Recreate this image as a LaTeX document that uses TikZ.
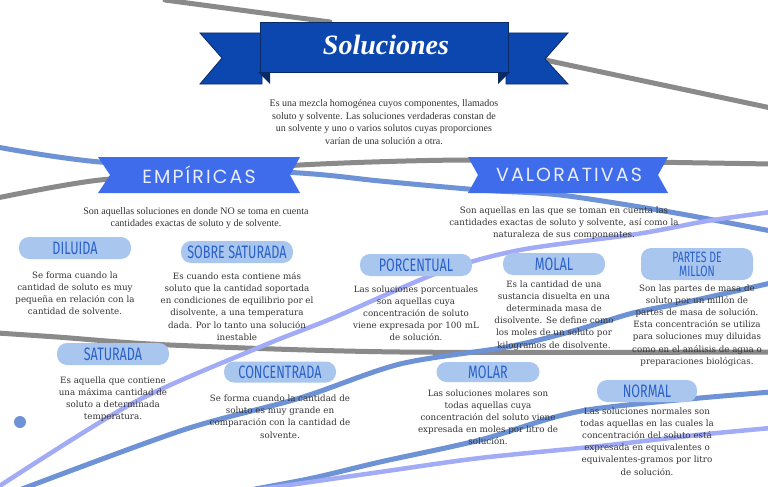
\documentclass[tikz,border=0pt]{standalone}
\usepackage{fontspec}
\setmainfont{Liberation Serif}
\newfontfamily\bodyfont{DejaVu Serif}
\newfontfamily\headfont[LetterSpace=11]{Poppins}
\newfontfamily\tagfont[FakeStretch=0.7]{Fira Sans}
\usetikzlibrary{positioning}

\definecolor{ribbonblue}{HTML}{0B47AE}
\definecolor{ribbonedge}{HTML}{0A2A66}
\definecolor{bannerblue}{HTML}{3F6CEB}
\definecolor{blobblue}{HTML}{A9C7EE}
\definecolor{tagblue}{HTML}{2A60C8}
\definecolor{textgray}{HTML}{333333}
\definecolor{linegray}{HTML}{8A8A8A}
\definecolor{lineblue}{HTML}{6D92D5}
\definecolor{lightblue}{HTML}{A2ABF6}

\begin{document}
\begin{tikzpicture}[
    x=1pt, y=-1pt,
    deco/.style={line width=5pt, line cap=round, line join=round},
    grayline/.style={deco, draw=linegray},
    blueline/.style={deco, draw=lineblue},
    lightline/.style={deco, draw=lightblue, line width=4.5pt},
    ribbon/.style={fill=ribbonblue, draw=ribbonedge, line width=0.8pt},
    ribbonfold/.style={fill=ribbonedge},
    banner/.style={fill=bannerblue},
    bannertext/.style={
        text=white!88!bannerblue,
        font=\headfont\fontsize{19}{19}\selectfont
    },
    titletext/.style={
        text=white,
        font=\rmfamily\bfseries\itshape\fontsize{28}{28}\selectfont
    },
    introtext/.style={
        align=center,
        text=textgray,
        inner sep=0pt,
        font=\rmfamily\fontsize{10}{12.6}\selectfont
    },
    blob/.style={
        fill=blobblue,
        rounded corners=10pt,
        minimum height=22pt,
        minimum width=112pt,
        inner sep=2pt,
        text=tagblue,
        font=\tagfont\fontsize{18}{18}\selectfont
    },
    infotext/.style={
        align=center,
        text=textgray,
        inner sep=0pt,
        font=\bodyfont\fontsize{8.7}{12.2}\selectfont
    }
]

\fill[white] (0,0) rectangle (768,487);
\useasboundingbox (0,0) rectangle (768,487);

% Background strokes
\draw[grayline] (165,0) -- (330,22);
\draw[grayline] (545,60) -- (771,108);
\draw[grayline] plot[smooth, tension=0.4] coordinates {(-3,198) (100,180) (300,165) (470,160) (771,164)};
\draw[blueline] plot[smooth] coordinates {(-3,147) (100,162) (300,173) (380,181) (480,190) (560,195) (670,212) (771,231)};
\draw[grayline] plot[smooth] coordinates {(-3,333) (57,337) (170,345) (400,352) (771,352)};
\draw[lightline] plot[smooth] coordinates {(-2,487) (133,403) (260,347) (333,318) (440,272) (520,250) (637,234) (707,221) (771,212)};
\draw[blueline] plot[smooth] coordinates {(22,489) (183,430) (300,398) (400,364) (507,347) (573,331) (633,313) (687,302) (771,283)};
\draw[blueline] plot[smooth] coordinates {(255,489) (313,478) (380,462) (480,440) (587,410) (771,392)};
\draw[lightline] plot[smooth] coordinates {(262,489) (380,472) (480,458) (600,446) (697,435) (771,428)};
\fill[lineblue] (20,422) circle (6pt);

% Title ribbon
\filldraw[ribbon] (200,33) -- (262,33) -- (262,84) -- (200,84) -- (222,58) -- cycle;
\filldraw[ribbon] (506,33) -- (568,33) -- (545,59) -- (568,84) -- (506,84) -- cycle;
\fill[ribbonfold] (258,72) -- (270,72) -- (270,84) -- cycle;
\fill[ribbonfold] (510,72) -- (498,72) -- (498,84) -- cycle;
\filldraw[ribbon] (260,22) rectangle (508,72);
\node[titletext] (title) at (386,45) {Soluciones};

\node[introtext] (intro) at (384,122) {Es una mezcla homogénea cuyos componentes, llamados\\
soluto y solvente. Las soluciones verdaderas constan de\\
un solvente y uno o varios solutos cuyas proporciones\\
varían de una solución a otra.};

% Banners
\fill[banner] (98,157) -- (300,157) -- (290,175) -- (300,193) -- (98,193) -- (110,175) -- cycle;
\node[bannertext] (empiricas) at (199,175) {EMPÍRICAS};

\fill[banner] (468,157) -- (668,157) -- (658,175) -- (668,193) -- (468,193) -- (478,175) -- cycle;
\node[bannertext] (valorativas) at (569,175) {VALORATIVAS};

\node[introtext] (empdesc) at (196,218) {Son aquellas soluciones en donde NO se toma en cuenta\\
cantidades exactas de soluto y de solvente.};

\node[infotext] (valdesc) at (564,223) {Son aquellas en las que se toman en cuenta las\\
cantidades exactas de soluto y solvente, así como la\\
naturaleza de sus componentes.};

% Empiricas
\node[blob] (diluida) at (75,248) {DILUIDA};
\node[blob] (sobresat) at (237,252) {SOBRE SATURADA};
\node[blob] (saturada) at (113,354) {SATURADA};
\node[blob, minimum height=21pt] (concentrada) at (280,372) {CONCENTRADA};

\node[infotext, below=12pt of diluida] (diluidatxt) {Se forma cuando la\\
cantidad de soluto es muy\\
pequeña en relación con la\\
cantidad de solvente.};

\node[infotext, below=9pt of sobresat] (sobresattxt) {Es cuando esta contiene más\\
soluto que la cantidad soportada\\
en condiciones de equilibrio por el\\
disolvente, a una temperatura\\
dada. Por lo tanto una solución\\
inestable};

\node[infotext, below=11pt of saturada] (saturadatxt) {Es aquella que contiene\\
una máxima cantidad de\\
soluto a determinada\\
temperatura.};

\node[infotext, below=12pt of concentrada] (concentradatxt) {Se forma cuando la cantidad de\\
soluto es muy grande en\\
comparación con la cantidad de\\
solvente.};

% Valorativas
\node[blob] (porcentual) at (416,265) {PORCENTUAL};
\node[blob, minimum width=102pt] (molal) at (554,264) {MOLAL};
\node[blob, minimum height=32pt, align=center,
    font=\tagfont\fontsize{15}{14}\selectfont] (partes) at (697,264) {PARTES DE\\MILLON};
\node[blob, minimum width=103pt, minimum height=20pt] (molar) at (488,372) {MOLAR};
\node[blob, minimum width=100pt] (normal) at (647,391) {NORMAL};

\node[infotext, below=9pt of porcentual] (porcentualtxt) {Las soluciones porcentuales\\
son aquellas cuya\\
concentración de soluto\\
viene expresada por 100 mL\\
de solución.};

\node[infotext, below=5pt of molal] (molaltxt) {Es la cantidad de una\\
sustancia disuelta en una\\
determinada masa de\\
disolvente. Se define como\\
los moles de un soluto por\\
kilogramos de disolvente.};

\node[infotext, below=4pt of partes] (partestxt) {Son las partes de masa de\\
soluto por un millón de\\
partes de masa de solución.\\
Esta concentración se utiliza\\
para soluciones muy diluidas\\
como en el análisis de agua o\\
preparaciones biológicas.};

\node[infotext, below=7pt of molar] (molartxt) {Las soluciones molares son\\
todas aquellas cuya\\
concentración del soluto viene\\
expresada en moles por litro de\\
solución.};

\node[infotext, below=5pt of normal] (normaltxt) {Las soluciones normales son\\
todas aquellas en las cuales la\\
concentración del soluto está\\
expresada en equivalentes o\\
equivalentes-gramos por litro\\
de solución.};

\end{tikzpicture}
\end{document}
